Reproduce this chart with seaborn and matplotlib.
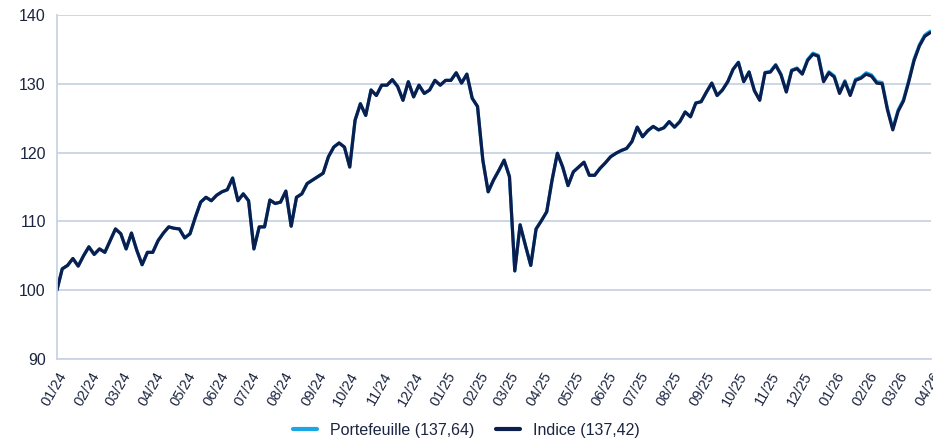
import matplotlib
matplotlib.use("Agg")
import matplotlib.pyplot as plt
import matplotlib.dates as mdates
import numpy as np
import pandas as pd
import seaborn as sns

# values, one every 5 calendar days from 01/01/2024
start_date = "2024-01-01"
step = "5D"

indice = [
    100.0, 103.1, 103.6, 104.6, 103.5, 105.0, 106.3, 105.2, 106.0, 105.5,
    107.2, 108.9, 108.2, 106.0, 108.3, 105.8, 103.7, 105.5, 105.5, 107.2,
    108.3, 109.2, 109.0, 108.9, 107.6, 108.2, 110.6, 112.8, 113.5, 113.0,
    113.8, 114.3, 114.6, 116.3, 113.0, 114.0, 113.0, 106.0, 109.2, 109.2,
    113.1, 112.6, 112.8, 114.4, 109.3, 113.5, 114.0, 115.5, 116.0, 116.5,
    117.0, 119.4, 120.8, 121.4, 120.8, 117.9, 124.7, 127.1, 125.4, 129.1,
    128.3, 129.8, 129.8, 130.6, 129.6, 127.6, 130.3, 128.1, 129.8, 128.6,
    129.1, 130.5, 129.8, 130.5, 130.5, 131.6, 130.1, 131.4, 127.9, 126.7,
    118.9, 114.3, 116.0, 117.4, 118.9, 116.5, 102.8, 109.5, 106.5, 103.6,
    108.9, 110.1, 111.4, 116.0, 119.9, 117.9, 115.2, 117.2, 117.9, 118.6,
    116.7, 116.7, 117.7, 118.5, 119.4, 119.9, 120.3, 120.6, 121.6, 123.7,
    122.3, 123.2, 123.8, 123.3, 123.6, 124.5, 123.7, 124.5, 125.9, 125.2,
    127.2, 127.4, 128.8, 130.1, 128.3, 129.1, 130.3, 132.1, 133.1, 130.3,
    131.7, 129.0, 127.6, 131.6, 131.7, 132.7, 131.3, 128.8, 131.9, 132.2,
    131.4, 133.4, 134.3, 134.0, 130.3, 131.6, 131.0, 128.6, 130.3, 128.3,
    130.5, 130.8, 131.4, 131.1, 130.1, 130.0, 126.2, 123.3, 126.0, 127.5,
    130.3, 133.4, 135.5, 136.9, 137.42,
]

portefeuille = [
    100.0, 103.1, 103.6, 104.6, 103.5, 105.0, 106.3, 105.2, 106.0, 105.5,
    107.2, 108.9, 108.2, 106.0, 108.3, 105.8, 103.7, 105.5, 105.5, 107.2,
    108.3, 109.2, 109.0, 108.9, 107.6, 108.2, 110.6, 112.8, 113.5, 113.0,
    113.8, 114.3, 114.6, 116.3, 113.0, 114.0, 113.0, 106.0, 109.2, 109.2,
    113.1, 112.6, 112.8, 114.4, 109.3, 113.5, 114.0, 115.5, 116.0, 116.5,
    117.0, 119.4, 120.8, 121.4, 120.8, 117.9, 124.7, 127.1, 125.4, 129.1,
    128.3, 129.8, 129.8, 130.6, 129.6, 127.6, 130.3, 128.1, 129.8, 128.6,
    129.1, 130.5, 129.8, 130.5, 130.5, 131.6, 130.1, 131.4, 127.9, 126.7,
    118.9, 114.3, 116.0, 117.4, 118.9, 116.5, 102.8, 109.5, 106.5, 103.6,
    108.9, 110.1, 111.4, 116.0, 119.9, 117.9, 115.2, 117.2, 117.9, 118.6,
    116.7, 116.7, 117.7, 118.5, 119.4, 119.9, 120.3, 120.6, 121.6, 123.7,
    122.3, 123.2, 123.8, 123.3, 123.6, 124.5, 123.7, 124.5, 125.9, 125.2,
    127.2, 127.4, 128.8, 130.1, 128.3, 129.1, 130.3, 132.1, 133.15, 130.35,
    131.75, 129.05, 127.65, 131.65, 131.8, 132.8, 131.4, 128.9, 132.0, 132.3,
    131.5, 133.55, 134.45, 134.15, 130.45, 131.75, 131.15, 128.75, 130.45, 128.45,
    130.65, 130.95, 131.6, 131.3, 130.3, 130.2, 126.4, 123.5, 126.2, 127.7,
    130.5, 133.6, 135.7, 137.1, 137.64,
]

labels = ["Portefeuille (137,64)", "Indice (137,42)"]
colors = ["#1ba6e6", "#0b1e4e"]

dates = pd.date_range(start_date, periods=len(indice), freq=step)
df = pd.concat([
    pd.DataFrame({"date": dates, "valeur": portefeuille, "serie": labels[0]}),
    pd.DataFrame({"date": dates, "valeur": indice, "serie": labels[1]}),
])

sns.set_theme(style="white")
plt.rcParams["font.family"] = ["Liberation Sans", "DejaVu Sans"]

grid_col = "#c8d4e5"
text_col = "#1c2540"

fig = plt.figure(figsize=(9.33, 4.41), dpi=100)
ax = fig.add_axes([0.061, 0.186, 0.937, 0.780])

sns.lineplot(data=df, x="date", y="valeur", hue="serie",
             palette=dict(zip(labels, colors)), linewidth=2.3, ax=ax,
             legend=False)

ax.set_ylim(90, 140)
ax.set_yticks([90, 100, 110, 120, 130, 140])
ax.set_xlim(pd.Timestamp("2024-01-01"), pd.Timestamp("2026-04-01"))
ax.xaxis.set_major_locator(mdates.MonthLocator())
ax.xaxis.set_major_formatter(mdates.DateFormatter("%m/%y"))

ax.grid(axis="y", color=grid_col, linewidth=1.3)
ax.set_axisbelow(True)
for side in ["top", "right"]:
    ax.spines[side].set_visible(False)
for side in ["left", "bottom"]:
    ax.spines[side].set_color(grid_col)
    ax.spines[side].set_linewidth(1.3)

ax.tick_params(axis="y", length=0, labelsize=11.5, labelcolor=text_col, pad=8)
ax.tick_params(axis="x", length=6, width=1.2, color=grid_col,
               labelsize=10.5, labelcolor=text_col, pad=2)
plt.setp(ax.get_xticklabels(), rotation=60, ha="right", rotation_mode="anchor")
ax.set_xlabel("")
ax.set_ylabel("")

handles = [plt.Line2D([], [], color=c, linewidth=3) for c in colors]
fig.legend(handles, labels, loc="lower center", bbox_to_anchor=(0.5, -0.025),
           ncol=2, frameon=False, fontsize=11.5, handlelength=1.5,
           columnspacing=1.4, labelcolor=text_col)

fig.savefig("out.png", dpi=100)
